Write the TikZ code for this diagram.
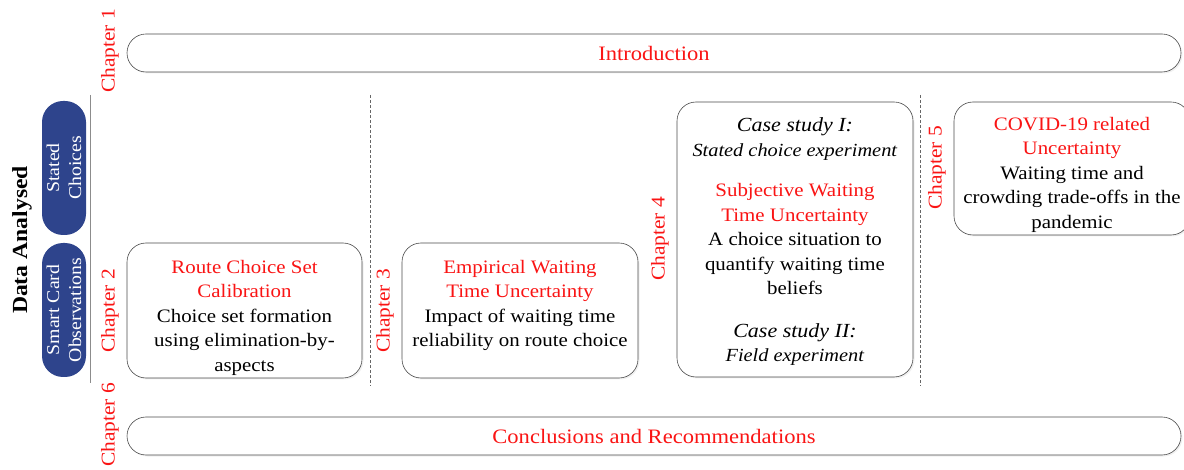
\documentclass[tikz,border=0pt]{standalone}
\usepackage{fontspec}
\setmainfont{Liberation Serif}[FakeStretch=1.1]
\usetikzlibrary{shadows}
\definecolor{pillblue}{RGB}{46,68,140}
\definecolor{chapred}{RGB}{250,20,20}
\tikzset{
  x=1pt,y=-1pt,
  base/.style={font=\fontsize{19}{24.5}\selectfont},
  chap/.style={font=\fontsize{19.5}{24}\selectfont,text=chapred,rotate=90,inner sep=0pt},
  box/.style={draw=black!70,line width=0.6pt,rounded corners=19pt,fill=white,inner sep=0pt,
    drop shadow={opacity=0.12,shadow xshift=1.5pt,shadow yshift=-1.5pt}},
  boxtext/.style={base,align=center,inner sep=0pt},
  bar/.style={box,font=\fontsize{20.5}{24}\selectfont,minimum width=1054pt,minimum height=38pt},
  pill/.style={font=\fontsize{18}{22}\selectfont,fill=pillblue,text=white,rotate=90,rounded corners=21pt,
    minimum width=134pt,minimum height=44pt,align=center,inner sep=0pt},
  divider/.style={draw=black!60,line width=0.6pt,dash pattern=on 3pt off 2pt},
}
\newcommand{\csit}[1]{{\fontsize{20}{24.5}\selectfont\textit{#1}}}
\newcommand{\cssub}[1]{{\fontsize{18.5}{24.5}\selectfont\textit{#1}}}
\begin{document}
\begin{tikzpicture}
\useasboundingbox (0,0) rectangle (1184,470);
% top / bottom bars
\node[bar] (intro) at (654,53) {\textcolor{chapred}{Introduction}};
\node[bar] (concl) at (654,436) {\textcolor{chapred}{Conclusions and Recommendations}};
% chapter labels
\node[chap] (c1) at (110,51) {Chapter 1};
\node[chap] (c2) at (110,311) {Chapter 2};
\node[chap] (c3) at (385,311) {Chapter 3};
\node[chap] (c4) at (660,239) {Chapter 4};
\node[chap] (c5) at (937,168) {Chapter 5};
\node[chap] (c6) at (110,425) {Chapter 6};
% data analysed
\node[rotate=90,font=\fontsize{21.5}{24}\selectfont\bfseries] (data) at (22,240) {Data Analysed};
\node[pill] (stated) at (64,168) {Stated\\Choices};
\node[pill] (smart) at (64,310) {Smart Card\\Observations};
\coordinate (la) at (90,95);
\coordinate (lb) at (90,383);
\draw[black!45,line width=1pt] (la) -- (lb);
% dashed dividers
\coordinate (d1a) at (370,95);
\coordinate (d1b) at (370,386);
\coordinate (d2a) at (920,95);
\coordinate (d2b) at (920,386);
\draw[divider] (d1a) -- (d1b);
\draw[divider] (d2a) -- (d2b);
% content boxes
\node[box,minimum width=235pt,minimum height=135pt] (route) at (244.5,310.5) {};
\node[boxtext] (routetext) at (244.5,317.5)
 {\textcolor{chapred}{Route Choice Set}\\\textcolor{chapred}{Calibration}\\Choice set formation\\using elimination-by-\\aspects};
\node[box,minimum width=236pt,minimum height=135pt] (emp) at (520,310.5) {};
\node[boxtext] (emptext) at (520,305.5)
 {\textcolor{chapred}{Empirical Waiting}\\\textcolor{chapred}{Time Uncertainty}\\Impact of waiting time\\reliability on route choice};
\node[box,minimum width=236pt,minimum height=275pt] (case) at (795,239.5) {};
\node[boxtext] (casetext) at (795,242)
 {\csit{Case study I:}\\\cssub{Stated choice experiment}\\[16pt]
  \textcolor{chapred}{Subjective Waiting}\\\textcolor{chapred}{Time Uncertainty}\\A choice situation to\\quantify waiting time\\beliefs\\[18pt]
  \csit{Case study II:}\\\cssub{Field experiment}};
\node[box,minimum width=236pt,minimum height=133pt] (covid) at (1072,168.5) {};
\node[boxtext] (covidtext) at (1072,174.5)
 {\textcolor{chapred}{COVID-19 related}\\\textcolor{chapred}{Uncertainty}\\Waiting time and\\crowding trade-offs in the\\pandemic};
\end{tikzpicture}
\end{document}
